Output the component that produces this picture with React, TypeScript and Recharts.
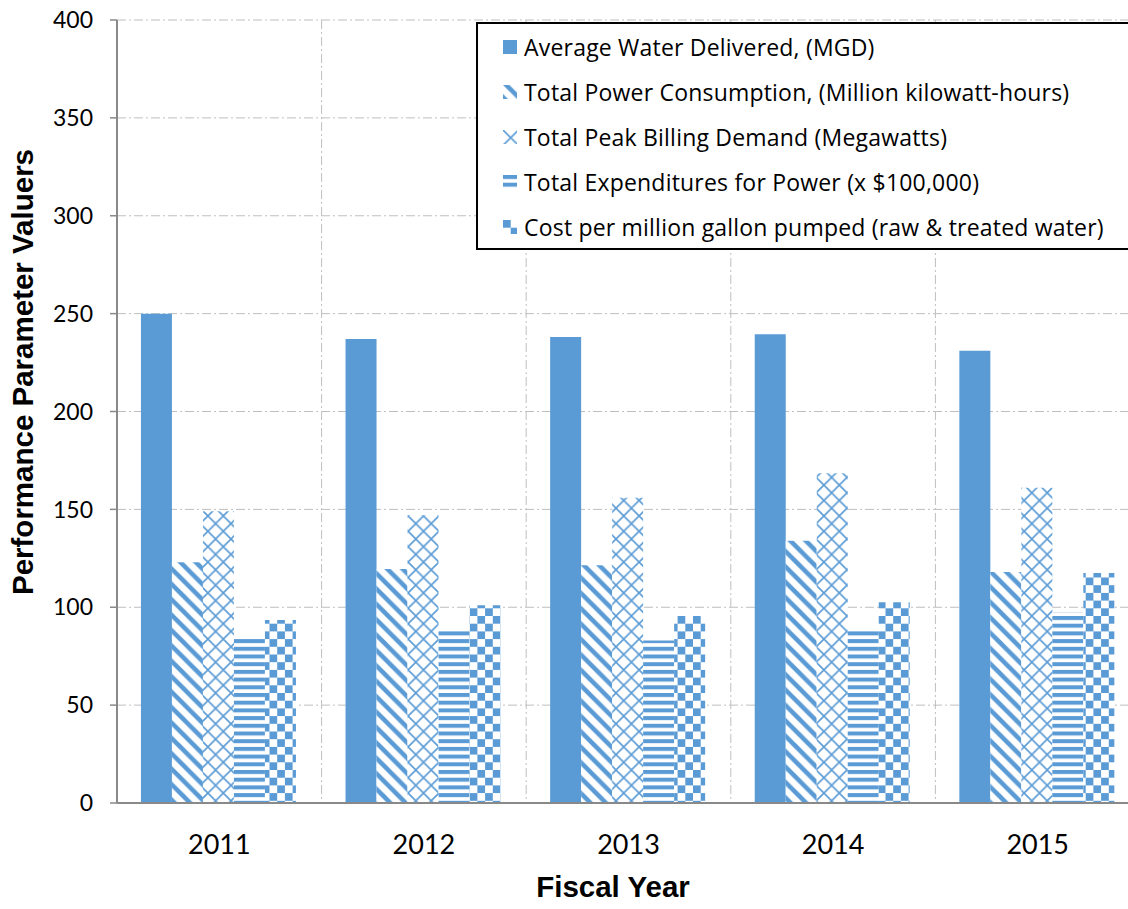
import { BarChart, Bar, XAxis, YAxis, CartesianGrid } from 'recharts';

// values
const years = ['2011', '2012', '2013', '2014', '2015'];
const avgWaterDelivered = [250, 237, 238, 239.5, 231];
const totalPowerConsumption = [123, 119.5, 121.5, 134, 118];
const peakBillingDemand = [149, 147, 156, 168.5, 161];
const powerExpenditures = [85, 88, 83, 89, 97.5];
const costPerMillionGallon = [93.5, 101, 95.5, 102.5, 117.5];
const yTicks = [0, 50, 100, 150, 200, 250, 300, 350, 400];

const seriesNames = [
  'Average Water Delivered, (MGD)',
  'Total Power Consumption, (Million kilowatt-hours)',
  'Total Peak Billing Demand (Megawatts)',
  'Total Expenditures for Power (x $100,000)',
  'Cost per million gallon pumped (raw & treated water)',
];
const seriesKeys = ['water', 'power', 'peak', 'expend', 'cost'];
const seriesFills = [
  '#5B9BD5',
  'url(#pat-diag)',
  'url(#pat-diamond)',
  'url(#pat-horiz)',
  'url(#pat-checker)',
];

const data = years.map((year, i) => ({
  year,
  water: avgWaterDelivered[i],
  power: totalPowerConsumption[i],
  peak: peakBillingDemand[i],
  expend: powerExpenditures[i],
  cost: costPerMillionGallon[i],
}));

const BLUE = '#5B9BD5';
const AXIS = '#898989';
const GRID = '#BFBFBF';
const TICK_FONT = 'Lato, "Noto Sans", sans-serif';
const LEGEND_FONT = '"Open Sans", Lato, sans-serif';
const TITLE_FONT = '"Liberation Sans", Arial, sans-serif';

const Patterns = () => (
  <svg width={0} height={0} style={{ position: 'absolute' }}>
    <defs>
      <pattern id="pat-diag" patternUnits="userSpaceOnUse" width={15.4} height={15.4}>
        <rect width={15.4} height={15.4} fill="#fff" />
        <path d="M0,0 L6.4,0 L15.4,9 L15.4,15.4 Z M0,9 L6.4,15.4 L0,15.4 Z" fill={BLUE} />
      </pattern>
      <pattern id="pat-diamond" patternUnits="userSpaceOnUse" width={15.4} height={15.4}>
        <rect width={15.4} height={15.4} fill="#fff" />
        <path d="M0,0 L15.4,15.4 M15.4,0 L0,15.4" stroke={BLUE} strokeWidth={1.6} />
      </pattern>
      <pattern id="pat-horiz" patternUnits="userSpaceOnUse" width={8} height={7.7}>
        <rect width={8} height={7.7} fill="#fff" />
        <rect y={0} width={8} height={4} fill={BLUE} />
      </pattern>
      <pattern id="pat-checker" patternUnits="userSpaceOnUse" width={15.4} height={15.4}>
        <rect width={15.4} height={15.4} fill="#fff" />
        <rect width={7.7} height={7.7} fill={BLUE} />
        <rect x={7.7} y={7.7} width={7.7} height={7.7} fill={BLUE} />
      </pattern>
    </defs>
  </svg>
);

const YTitle = () => (
  <text
    x={33}
    y={372}
    transform="rotate(-90 33 372)"
    textAnchor="middle"
    fontFamily={TITLE_FONT}
    fontWeight="bold"
    fontSize={29.5}
    fill="#000"
  >
    Performance Parameter Valuers
  </text>
);

const XTitle = () => (
  <text
    x={613}
    y={897}
    textAnchor="middle"
    fontFamily={TITLE_FONT}
    fontWeight="bold"
    fontSize={29.5}
    fill="#000"
  >
    Fiscal Year
  </text>
);

const LegendBox = () => (
  <div
    style={{
      position: 'absolute',
      left: 476,
      top: 22,
      width: 680,
      height: 224,
      border: '2px solid #000',
      background: '#fff',
      fontFamily: LEGEND_FONT,
      fontSize: 23,
      letterSpacing: 0.2,
      color: '#000',
    }}
  >
    {seriesNames.map((name, i) => (
      <div
        key={name}
        style={{ display: 'flex', alignItems: 'center', height: 45, paddingLeft: 25, whiteSpace: 'nowrap' }}
      >
        <svg width={14} height={14} style={{ marginRight: 7, flex: 'none' }}>
          <rect width={14} height={14} fill={seriesFills[i]} />
        </svg>
        <span>{name}</span>
      </div>
    ))}
  </div>
);

export default function App() {
  return (
    <div
      style={{
        position: 'absolute',
        left: 0,
        top: 0,
        width: 1128,
        height: 909,
        overflow: 'hidden',
        background: '#fff',
      }}
    >
      <Patterns />
      <BarChart
        width={1150}
        height={909}
        data={data}
        margin={{ top: 20, right: 10, bottom: 0, left: 0 }}
        barCategoryGap="11.7%"
        barGap={0}
      >
        <CartesianGrid
          stroke={GRID}
          strokeDasharray="9 3 2 3"
          verticalCoordinatesGenerator={({ offset }: any) =>
            years.map((_, k) => offset.left + ((k + 1) * offset.width) / years.length)
          }
        />
        <XAxis
          dataKey="year"
          height={106}
          tickLine={false}
          tickSize={0}
          tickMargin={32}
          axisLine={{ stroke: AXIS, strokeWidth: 2 }}
          tick={{ fontFamily: TICK_FONT, fontSize: 27, fill: '#000' }}
          label={XTitle}
        />
        <YAxis
          width={117}
          domain={[0, 400]}
          ticks={yTicks}
          interval={0}
          tickSize={7}
          tickMargin={17}
          axisLine={{ stroke: AXIS, strokeWidth: 2 }}
          tickLine={{ stroke: AXIS, strokeWidth: 1.5 }}
          tick={{ fontFamily: TICK_FONT, fontSize: 23, fill: '#000' }}
          label={YTitle}
        />
        {seriesKeys.map((key, i) => (
          <Bar key={key} dataKey={key} name={seriesNames[i]} fill={seriesFills[i]} isAnimationActive={false} />
        ))}
      </BarChart>
      <LegendBox />
    </div>
  );
}
